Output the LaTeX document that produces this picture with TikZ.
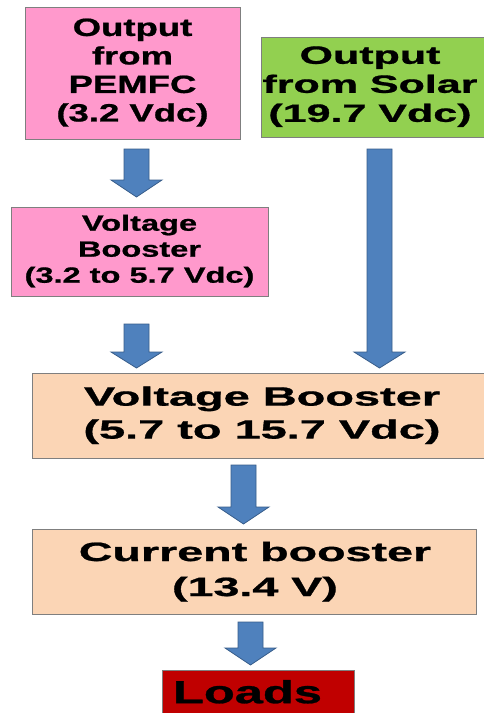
\documentclass[tikz,border=0pt]{standalone}
\usepackage{fontspec}
\setmainfont[BoldFeatures={FakeBold=0.8}]{Liberation Sans}
\usepackage{graphicx}
\definecolor{pinkbox}{HTML}{FF99CC}
\definecolor{greenbox}{HTML}{92D050}
\definecolor{peachbox}{HTML}{FBD5B5}
\definecolor{loadred}{HTML}{C00000}
\definecolor{arrowfill}{HTML}{4F81BD}
\definecolor{arrowline}{HTML}{385D8A}
\definecolor{boxline}{HTML}{7F7F7F}
\newcommand{\bt}[4]{\scalebox{#1}[1]{\fontsize{#2}{#3}\selectfont\bfseries\begin{tabular}{@{}c@{}}#4\end{tabular}}}
\newcommand{\barrow}[4]{%
  \filldraw[blockarrow] ({#1-12.5},#2) -- ({#1+12.5},#2) -- ({#1+12.5},#3) -- ({#1+25.5},#3) -- (#1,#4) -- ({#1-25.5},#3) -- ({#1-12.5},#3) -- cycle;}
\begin{document}
\begin{tikzpicture}[x=1pt,y=-1pt,
  box/.style={draw=boxline, line width=0.8pt, inner sep=0pt},
  blockarrow/.style={fill=arrowfill, draw=arrowline, line width=0.8pt, line join=miter}]
\useasboundingbox (0,0) rectangle (484,713);
\clip (0,0) rectangle (484,713);
\fill[white] (0,0) rectangle (484,713);

\node[box, fill=pinkbox, minimum width=215pt, minimum height=132pt] (pem) at (132.5,73)
  {\bt{1.46}{25}{28.5}{Output\\from\\PEMFC\\(3.2 Vdc)}};
\node[box, fill=greenbox, minimum width=225pt, minimum height=100pt] (solar) at (373.5,87)
  {\hspace*{-7pt}\bt{1.72}{25}{29}{Output\\from Solar\\(19.7 Vdc)}};
\node[box, fill=pinkbox, minimum width=257pt, minimum height=89pt] (vb1) at (139.5,251.5)
  {\bt{1.48}{22}{26}{Voltage\\Booster\\(3.2 to 5.7 Vdc)}};
\node[box, fill=peachbox, minimum width=454pt, minimum height=85pt] (vb2) at (259,415.5)
  {\hspace*{6pt}\bt{1.77}{26.5}{33}{Voltage Booster\\(5.7 to 15.7 Vdc)}};
\node[box, fill=peachbox, minimum width=444pt, minimum height=85pt] (cb) at (254,571.5)
  {\hspace*{2pt}\bt{1.76}{26.5}{35}{Current booster\\(13.4 V)}};
\node[box, fill=loadred, minimum width=192pt, minimum height=52pt] (loads) at (258,696)
  {\hspace*{-21pt}\bt{1.58}{32}{36}{Loads}};

\barrow{136.5}{149}{180}{197}
\barrow{379.5}{149}{352}{368}
\barrow{136.5}{324}{352}{368}
\barrow{243.5}{465}{507}{524}
\barrow{250.5}{622}{648}{665}
\end{tikzpicture}
\end{document}
